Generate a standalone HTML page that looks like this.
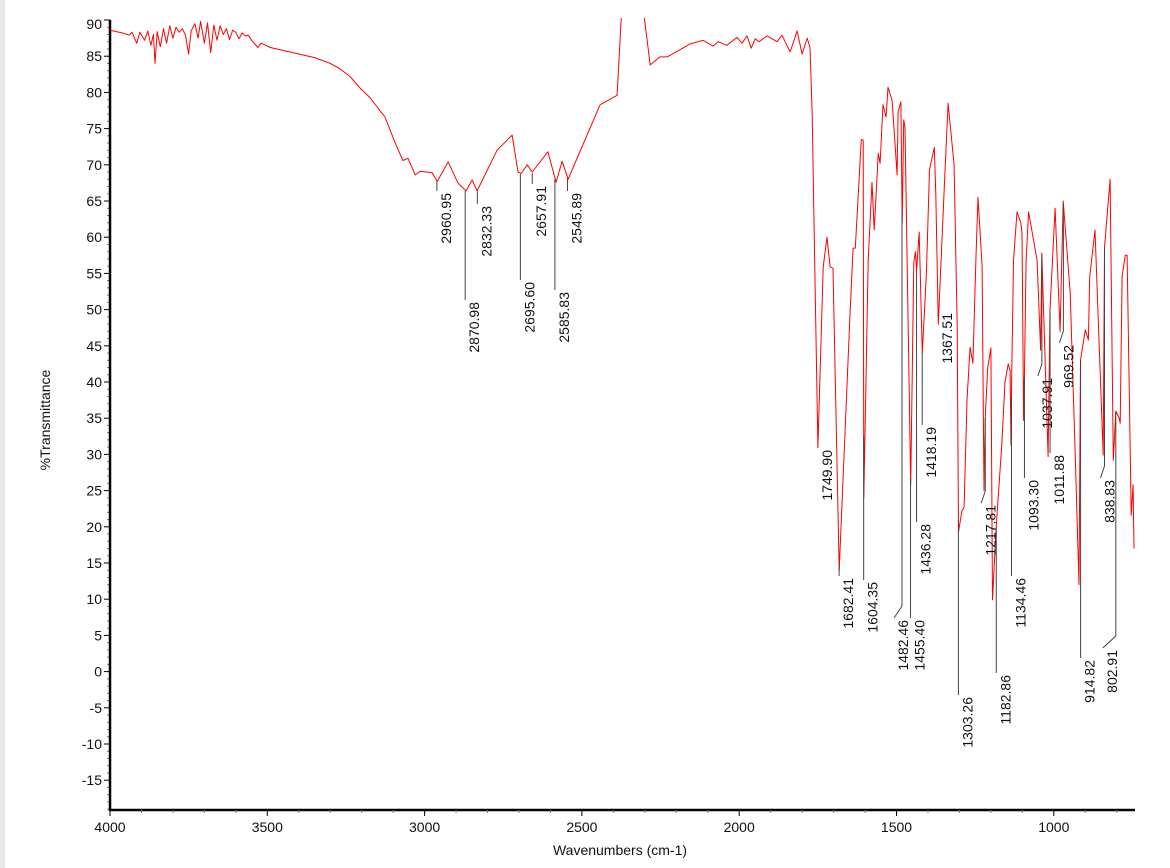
<!DOCTYPE html>
<html><head><meta charset="utf-8">
<style>
html,body{margin:0;padding:0;background:#fff;}
body{width:1170px;height:868px;overflow:hidden;position:relative;font-family:"Liberation Sans",Arial,sans-serif;}
#edge{position:absolute;left:0;top:0;width:5px;height:868px;background:#e6e6e6;}
</style></head>
<body>
<div id="edge"></div>
<svg id="chart" width="1170" height="868" style="position:absolute;left:0;top:0"></svg>
<script>
// ---- data ----
const wavenumbers = [4000,3980,3960,3940,3930,3915,3905,3890,3880,3870,3862,3857,3850,3840,3830,3820,3810,3800,3790,3780,3770,3760,3750,3742,3730,3720,3712,3700,3690,3680,3670,3660,3650,3640,3630,3620,3610,3600,3590,3580,3570,3560,3550,3530,3520,3500,3490,3450,3400,3350,3300,3270,3237,3205,3174,3142,3126,3094,3069,3053,3030,3014,2976,2960,2925,2894,2868,2849,2833,2770,2722,2703,2693,2674,2658,2608,2582,2563,2544,2442,2388,2369,2340,2315,2283,2252,2229,2156,2115,2083,2067,2039,2007,1991,1975,1962,1949,1937,1911,1880,1864,1854,1838,1816,1800,1784,1775,1768,1762,1750,1733,1721,1711,1702,1682,1648,1638,1631,1612,1606,1604,1590,1578,1571,1558,1552,1543,1533,1527,1514,1498,1495,1486,1482,1477,1473,1455,1445,1440,1436,1428,1418,1405,1395,1380,1375,1367,1349,1336,1317,1307,1303,1292,1285,1276,1266,1257,1247,1241,1228,1222,1218,1210,1200,1195,1183,1165,1155,1145,1139,1136,1134,1128,1117,1105,1101,1096,1093,1088,1080,1053,1042,1038,1018,1012,996,980,970,948,932,920,915,900,890,886,869,843,839,821,811,803,792,789,783,773,767,760,754,748,745,742];
const transmittance = [88.6,88.4,88.2,87.9,88.3,86.8,88.3,87.2,88.5,86.5,88,84,88.4,86.3,88.8,86.8,89.2,87.5,89,88.3,88.8,87.9,85.3,88.5,89.5,87.5,89.8,86.8,89.6,85.5,89.3,87.2,89.2,88,88.8,87.3,88.6,88.3,87.4,88.2,87.8,87.9,87.2,86.2,86.8,86.4,86.2,85.8,85.3,84.8,84.0,83.3,82.2,80.6,79.3,77.5,76.6,73.1,70.6,70.9,68.6,69.1,68.9,67.7,70.4,67.5,66.4,67.9,66.4,72,74.1,69,68.8,70,69,71.8,67.6,70.5,68,78.3,79.6,95,95,95,83.8,84.9,84.9,86.7,87.2,86.4,87,86.5,87.6,86.8,87.8,86.1,87.4,87,87.8,87,87.9,87,85.6,88.5,85.3,87.5,86.2,76.9,61.4,31,55.9,60,55.9,55.7,14,49,58.5,58.5,73.5,73.4,24,56.8,67.6,61,71.6,70.2,78.3,76.6,80.7,78.9,68.6,77.3,78.7,62,76.2,75.2,25.8,56.5,58,55.5,60.7,44,55,69.3,72.4,66,48,66,78.5,70,47.6,19.3,22.2,22.7,37.5,44.8,42.6,57.8,65.5,56,25,35,42,44.7,9.9,20,31.6,40,42.5,41.5,31.3,40,56.8,63.5,62,60.6,34.7,41.4,56.8,63.5,56.8,44.4,57.8,29.7,50,64,47,65,52.3,30,12,43,47.2,45.8,54.5,61,29.9,58.6,68,29.2,36,35,34.3,54.5,57.5,57.5,38.5,21.6,25.8,17];
const xTickLabels = [4000,3500,3000,2500,2000,1500,1000];
const yTickLabels = [90,85,80,75,70,65,60,55,50,45,40,35,30,25,20,15,10,5,0,-5,-10,-15];
const peakLabels = ["2960.95","2870.98","2832.33","2695.60","2657.91","2585.83","2545.89","1749.90","1682.41","1604.35","1482.46","1455.40","1436.28","1418.19","1367.51","1303.26","1217.81","1182.86","1134.46","1093.30","1037.91","1011.88","969.52","914.82","838.83","802.91"];
// label text vertical extent (annotation layout, pixels)
const labelTop = [193,302,206,282,186,292,193,450,578,582,620,620,524,427,313,697,505,675,578,480,378,455,345,660,480,650];
const labelShift = [0,0,0,0,0,0,0,0,0,0,-8,0,0,0,0,0,-4,0,0,0,-4,0,-4,0,-4,-13];

// ---- scales ----
const X0=110, X1=1135, Y0=20, Y1=810;
const wnMax=4000, pxPerWn=0.3146;
function xs(w){return X0+(wnMax-w)*pxPerWn;}
function ys(t){return 671.6-7.24*t;}
function tAt(w){
  for(let i=0;i<wavenumbers.length-1;i++){
    const a=wavenumbers[i],b=wavenumbers[i+1];
    if(w<=a&&w>=b){const f=(a-w)/(a-b);return transmittance[i]+f*(transmittance[i+1]-transmittance[i]);}
  }
  return transmittance[transmittance.length-1];
}
const NS="http://www.w3.org/2000/svg";
const svg=document.getElementById('chart');
function mk(tag,attrs,parent){const e=document.createElementNS(NS,tag);for(const k in attrs)e.setAttribute(k,attrs[k]);(parent||svg).appendChild(e);return e;}

const defs=mk('defs',{});
const cp=mk('clipPath',{id:'plotclip'},defs);
mk('rect',{x:X0,y:Y0-2,width:X1-X0+2,height:Y1-Y0+2},cp);

// y axis
const yAxis=mk('g',{});


for(let v=-19;v<=90;v++){
  const y=ys(v);
  const major=(v%5===0);
  mk('line',{x1:X0-(major?6:3),x2:X0,y1:y,y2:y,stroke:major?'#000':'#777','stroke-width':1},yAxis);
}
yTickLabels.forEach(v=>{
  const t=mk('text',{x:X0-8,y:ys(v)+(v===90?9:5),'text-anchor':'end','font-size':14,fill:'#111'},yAxis);
  
  
  t.textContent=v;
});
mk('line',{x1:X0,x2:X0,y1:Y0,y2:Y1+1,stroke:'#000','stroke-width':2.5},yAxis);

// x axis
const xAxis=mk('g',{});


mk('line',{x1:X0-1,x2:X1,y1:Y1,y2:Y1,stroke:'#000','stroke-width':2.5},xAxis);
for(let w=4000;w>=750;w-=100){
  const major=(w%500===0);
  mk('line',{x1:xs(w),x2:xs(w),y1:Y1,y2:Y1+(major?6:3),stroke:major?'#000':'#777','stroke-width':1},xAxis);
}
xTickLabels.forEach(w=>{
  const t=mk('text',{x:xs(w),y:Y1+22,'text-anchor':'middle','font-size':14,fill:'#111'},xAxis);
  
  
  t.textContent=w;
});
const xt=mk('text',{x:620,y:855,'text-anchor':'middle','font-size':14,fill:'#111'});


xt.textContent='Wavenumbers (cm-1)';
const yt=mk('text',{x:0,y:0,'text-anchor':'middle','font-size':14,fill:'#111',transform:'translate(50,420) rotate(-90)'});


yt.textContent='%Transmittance';

// spectrum
let d='';
wavenumbers.forEach((w,i)=>{d+=(i?'L':'M')+xs(w).toFixed(1)+','+ys(transmittance[i]).toFixed(1);});
const path=mk('path',{d:d,fill:'none',stroke:'#ff0000','stroke-width':1,'clip-path':'url(#plotclip)','stroke-linejoin':'round'});



// peak labels
peakLabels.forEach((lab,i)=>{
  const w=parseFloat(lab);
  const x=xs(w);
  const yp=ys(tAt(w));
  const top=labelTop[i];
  const sh=labelShift[i];
  const tx=x+sh+9;
  const g=mk('g',{});
  
  
  let pts;
  if(sh===0){pts=x+','+(yp+1)+' '+x+','+(top-2);}
  else{pts=x+','+(yp+1)+' '+x+','+Math.max(yp+2,top-14)+' '+(x+sh)+','+(top-2);}
  mk('polyline',{points:pts,fill:'none',stroke:'#444','stroke-width':1},g);
  const t=mk('text',{x:0,y:0,'text-anchor':'end','font-size':14,fill:'#111',transform:'translate('+(tx+5)+','+top+') rotate(-90)'},g);
  t.textContent=lab;
});
</script>
</body></html>
